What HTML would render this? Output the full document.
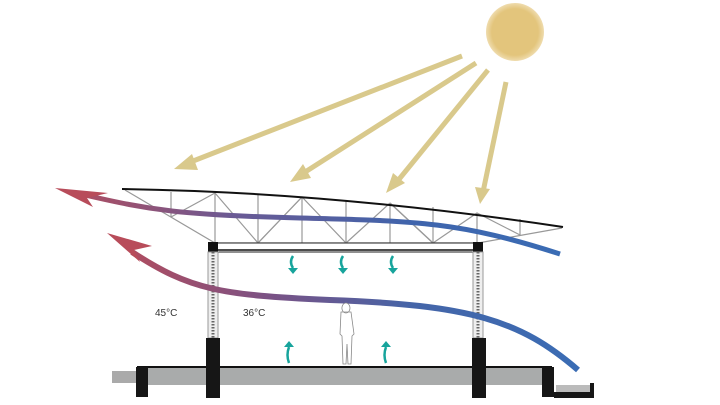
<!DOCTYPE html>
<html><head><style>body{margin:0;background:#fff}svg{display:block}</style></head><body>
<svg width="720" height="405" viewBox="0 0 720 405" xmlns="http://www.w3.org/2000/svg">
<defs>
<linearGradient id="g1" x1="55" y1="0" x2="565" y2="0" gradientUnits="userSpaceOnUse">
<stop offset="0" stop-color="#b84c5a"/><stop offset="0.35" stop-color="#6a5a94"/><stop offset="0.7" stop-color="#3f64ac"/><stop offset="1" stop-color="#3a6cb4"/></linearGradient>
<linearGradient id="g2" x1="105" y1="0" x2="578" y2="0" gradientUnits="userSpaceOnUse">
<stop offset="0" stop-color="#b84c5a"/><stop offset="0.35" stop-color="#7a5285"/><stop offset="0.65" stop-color="#4565a8"/><stop offset="1" stop-color="#3a6cb4"/></linearGradient>
<radialGradient id="sun"><stop offset="0.8" stop-color="#e3c57c"/><stop offset="1" stop-color="#efdcae"/></radialGradient>
</defs>
<circle cx="515" cy="32" r="29" fill="url(#sun)"/>
<g stroke="#d9c98c" stroke-width="5" fill="#d9c98c">
<line x1="462" y1="56" x2="188" y2="163"/><polygon points="174,169 192,154 198,170" stroke="none"/>
<line x1="476" y1="63" x2="302" y2="174"/><polygon points="290,182 303,164 311,178" stroke="none"/>
<line x1="488" y1="70" x2="396" y2="183"/><polygon points="386,193 393,173 405,183" stroke="none"/>
<line x1="506" y1="82" x2="483" y2="192"/><polygon points="480,204 475,187 490,189" stroke="none"/>
</g>
<g stroke="#999" stroke-width="1.2" fill="none">
<polyline points="125,190 215,243 478,243 562,228"/>
<line x1="171" y1="192" x2="171" y2="217"/><line x1="215" y1="193" x2="215" y2="243"/>
<line x1="258" y1="195" x2="258" y2="243"/><line x1="302" y1="197" x2="302" y2="243"/>
<line x1="346" y1="200" x2="346" y2="243"/><line x1="390" y1="203" x2="390" y2="243"/>
<line x1="433" y1="207" x2="433" y2="243"/><line x1="477" y1="213" x2="477" y2="243"/>
<line x1="520" y1="219" x2="520" y2="235"/>
<polyline points="171,217 215,193 258,243 302,197 346,243 390,203 346,243"/>
<polyline points="390,203 433,243 477,213 520,235"/>
<line x1="258" y1="243" x2="302" y2="197"/><line x1="433" y1="243" x2="390" y2="203"/>
</g>
<path d="M122,189 Q330,192 563,227" stroke="#111" stroke-width="2" fill="none"/>
<rect x="215" y="243" width="263" height="9" fill="#fff" stroke="#222" stroke-width="1"/>
<line x1="215" y1="250" x2="478" y2="250" stroke="#111" stroke-width="1.5"/>
<rect x="208" y="242" width="10" height="10" fill="#111"/><rect x="473" y="242" width="10" height="10" fill="#111"/>
<g stroke="#999" stroke-width="1" fill="#eee">
<rect x="208" y="252" width="10" height="86"/><rect x="473" y="252" width="10" height="86"/></g>
<line x1="213" y1="252" x2="213" y2="338" stroke="#666" stroke-width="3" stroke-dasharray="1.5 1.5"/>
<line x1="478" y1="252" x2="478" y2="338" stroke="#666" stroke-width="3" stroke-dasharray="1.5 1.5"/>
<rect x="112" y="371" width="30" height="12" fill="#aaa"/>
<rect x="137" y="367" width="415" height="18" fill="#a9abab"/>
<line x1="137" y1="367" x2="552" y2="367" stroke="#111" stroke-width="2"/>
<g fill="#161616">
<rect x="206" y="338" width="14" height="60"/><rect x="472" y="338" width="14" height="60"/>
<rect x="136" y="367" width="12" height="30"/><rect x="542" y="367" width="12" height="30"/>
<rect x="554" y="392" width="40" height="6"/><rect x="590" y="383" width="4" height="12"/>
</g>
<rect x="556" y="385" width="34" height="7" fill="#bbb"/>
<path d="M85,195 C150,210 180,215 300,218 C420,221 460,222 560,254" stroke="url(#g1)" stroke-width="5" fill="none"/>
<polygon points="55,188 108,193 87,198 93,207" fill="#b84c5a"/>
<path d="M132,252 C190,290 220,295 330,300 C470,305 520,320 578,370" stroke="url(#g2)" stroke-width="6" fill="none"/>
<polygon points="107,233 152,246 134,250 140,262" fill="#b84c5a"/>
<g stroke="#17a49c" stroke-width="2.5" fill="none">
<path d="M293,256 q-4,6 0,12"/><path d="M343,256 q-4,6 0,12"/><path d="M393,256 q-4,6 0,12"/>
<path d="M289,363 q-3,-8 0,-16"/><path d="M386,363 q-3,-8 0,-16"/></g>
<g fill="#17a49c"><polygon points="288,268 298,268 293,274"/><polygon points="338,268 348,268 343,274"/><polygon points="388,268 398,268 393,274"/>
<polygon points="284,347 294,347 289,341"/><polygon points="381,347 391,347 386,341"/></g>
<path d="M346,303 a4,5 0 1 1 -0.1,0 M341,312 l10,0 l3,22 l-2,2 l-1,28 l-3,0 l-1,-20 l-1,20 l-3,0 l-1,-28 l-2,-2 z" fill="#fff" stroke="#888" stroke-width="0.8"/>
<text x="155" y="316" font-family="Liberation Sans, sans-serif" font-size="10" fill="#333">45°C</text>
<text x="243" y="316" font-family="Liberation Sans, sans-serif" font-size="10" fill="#333">36°C</text>
</svg>
</body></html>
